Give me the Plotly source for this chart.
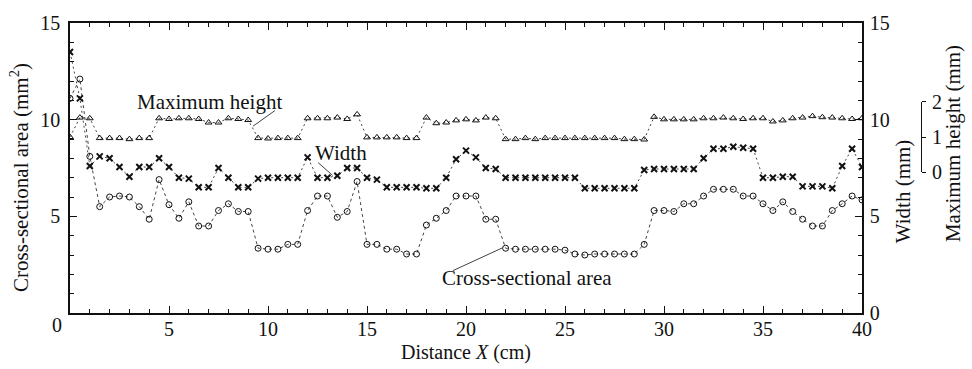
import plotly.graph_objects as go

# ---------------- data ----------------
x_cm = [0, 0.5, 1, 1.5, 2, 2.5, 3, 3.5, 4, 4.5, 5, 5.5, 6, 6.5, 7, 7.5, 8, 8.5, 9, 9.5,
        10, 10.5, 11, 11.5, 12, 12.5, 13, 13.5, 14, 14.5, 15, 15.5, 16, 16.5, 17, 17.5,
        18, 18.5, 19, 19.5, 20, 20.5, 21, 21.5, 22, 22.5, 23, 23.5, 24, 24.5, 25, 25.5,
        26, 26.5, 27, 27.5, 28, 28.5, 29, 29.5, 30, 30.5, 31, 31.5, 32, 32.5, 33, 33.5,
        34, 34.5, 35, 35.5, 36, 36.5, 37, 37.5, 38, 38.5, 39, 39.5, 40]

area_mm2 = [11.1, 12.1, 8.1, 5.5, 6.0, 6.05, 6.0, 5.5, 4.85, 6.9, 5.6, 4.9, 5.75, 4.5, 4.5,
            5.3, 5.65, 5.25, 5.25, 3.35, 3.3, 3.3, 3.55, 3.55, 5.3, 6.05, 6.05, 4.95, 5.25,
            6.8, 3.55, 3.55, 3.3, 3.3, 3.05, 3.05, 4.55, 4.9, 5.3, 6.05, 6.05, 6.05, 4.85,
            4.85, 3.35, 3.3, 3.3, 3.3, 3.3, 3.3, 3.25, 3.05, 3.0, 3.05, 3.05, 3.05, 3.05,
            3.05, 3.55, 5.3, 5.3, 5.25, 5.65, 5.65, 6.05, 6.4, 6.4, 6.4, 6.05, 6.05, 5.65,
            5.3, 5.75, 5.25, 4.85, 4.5, 4.5, 5.3, 5.65, 6.05, 5.85]

width_mm = [13.5, 11.1, 7.6, 8.1, 8.0, 7.55, 7.05, 7.55, 7.55, 8.0, 7.55, 7.0, 6.95, 6.5,
            6.5, 7.5, 7.0, 6.5, 6.5, 6.95, 7.0, 7.0, 7.0, 7.0, 8.05, 7.0, 7.0, 7.1, 7.5, 7.5,
            7.0, 6.9, 6.5, 6.5, 6.5, 6.5, 6.45, 6.45, 7.0, 7.95, 8.4, 8.05, 7.5, 7.45, 7.0,
            7.0, 7.0, 7.0, 7.0, 7.0, 7.0, 7.0, 6.45, 6.45, 6.45, 6.45, 6.45, 6.45, 7.4, 7.45,
            7.45, 7.45, 7.45, 7.45, 8.0, 8.5, 8.5, 8.6, 8.55, 8.5, 7.0, 7.0, 7.05, 7.05, 6.55,
            6.55, 6.55, 6.45, 7.6, 8.5, 7.55]

max_height_mm = [1.0, 1.55, 1.53, 0.97, 0.97, 0.97, 0.94, 0.97, 0.97, 1.53, 1.51, 1.53, 1.53,
                 1.51, 1.41, 1.41, 1.53, 1.51, 1.48, 0.97, 0.96, 0.97, 0.97, 0.97, 1.53, 1.53,
                 1.53, 1.55, 1.51, 1.64, 0.99, 0.99, 0.99, 0.99, 0.97, 0.97, 1.55, 1.39, 1.41,
                 1.47, 1.50, 1.47, 1.55, 1.53, 0.94, 0.94, 0.97, 0.94, 0.97, 0.97, 0.97, 0.97,
                 0.97, 0.97, 0.97, 0.97, 0.94, 0.94, 0.93, 1.57, 1.50, 1.50, 1.50, 1.50, 1.53,
                 1.53, 1.55, 1.53, 1.51, 1.53, 1.53, 1.44, 1.47, 1.53, 1.55, 1.59, 1.56, 1.55,
                 1.53, 1.51, 1.53]

x_tick_vals = [0, 5, 10, 15, 20, 25, 30, 35, 40]
x_tick_text = ["", "5", "10", "15", "20", "25", "30", "35", "40"]
y_tick_vals = [0, 5, 10, 15]
y_left_text = ["", "5", "10", "15"]
y_right_text = ["0", "5", "10", "15"]
h_tick_vals = [0, 1, 2]

FONT = "Liberation Serif"
INK = "#111111"
LINE = "#444444"

fig = go.Figure()

fig.add_trace(go.Scatter(
    x=x_cm, y=max_height_mm, xaxis="x", yaxis="y3", mode="lines+markers",
    line=dict(color=LINE, width=1, dash="2px,3px"),
    marker=dict(symbol="triangle-up-open", size=6, color=INK, line=dict(width=1, color=INK)),
    name="Maximum height", showlegend=False))

fig.add_trace(go.Scatter(
    x=x_cm, y=width_mm, xaxis="x", yaxis="y2", mode="lines+markers",
    line=dict(color=LINE, width=1, dash="2px,3px"),
    marker=dict(symbol="x-thin-open", size=6, color=INK, line=dict(width=2, color=INK)),
    name="Width", showlegend=False))

fig.add_trace(go.Scatter(
    x=x_cm, y=area_mm2, xaxis="x", yaxis="y", mode="lines+markers",
    line=dict(color=LINE, width=1, dash="3px,3px"),
    marker=dict(symbol="circle-open", size=6, color=INK, line=dict(width=1, color=INK)),
    name="Cross-sectional area", showlegend=False))

axis_font = dict(family=FONT, size=20, color=INK)

fig.update_layout(
    width=972, height=369,
    margin=dict(l=70, r=51, t=18, b=56, pad=0),
    paper_bgcolor="white", plot_bgcolor="rgba(0,0,0,0)",
    font=dict(family=FONT, size=20, color=INK),
    showlegend=False,
    xaxis=dict(
        domain=[0, 792 / 851], range=[0, 40],
        tickmode="array", tickvals=x_tick_vals, ticktext=x_tick_text,
        ticks="inside", ticklen=7, tickwidth=1, tickcolor=INK,
        minor=dict(dtick=1, ticks="inside", ticklen=4, tickwidth=1, tickcolor=INK),
        showline=True, linecolor=INK, linewidth=1.5, mirror="ticks",
        showgrid=False, zeroline=False, tickfont=axis_font, ticklabelstandoff=-3,
    ),
    yaxis=dict(
        range=[0, 15],
        tickmode="array", tickvals=y_tick_vals, ticktext=y_left_text,
        ticks="inside", ticklen=7, tickwidth=1, tickcolor=INK,
        minor=dict(dtick=1, ticks="inside", ticklen=4, tickwidth=1, tickcolor=INK),
        showline=True, linecolor=INK, linewidth=1.5,
        showgrid=False, zeroline=False, tickfont=axis_font, ticklabelstandoff=4,
    ),
    yaxis2=dict(
        range=[0, 15], overlaying="y", side="right", anchor="x",
        tickmode="array", tickvals=y_tick_vals, ticktext=y_right_text,
        ticks="inside", ticklen=7, tickwidth=1, tickcolor=INK,
        minor=dict(dtick=1, ticks="inside", ticklen=4, tickwidth=1, tickcolor=INK),
        showline=True, linecolor=INK, linewidth=1.5,
        showgrid=False, zeroline=False, tickfont=axis_font, ticklabelstandoff=2,
    ),
    yaxis3=dict(
        domain=[143 / 295, 215 / 295], range=[0, 2], anchor="free", position=1.0,
        side="right",
        tickmode="array", tickvals=h_tick_vals,
        ticks="outside", ticklen=4, tickwidth=1, tickcolor=INK,
        showline=True, linecolor=INK, linewidth=1,
        showgrid=False, zeroline=False, tickfont=axis_font, ticklabelstandoff=2,
    ),
)

# leader lines for the in-plot labels
leaders = [
    (10.35, 10.47, 9.24, 9.66),
    (12.53, 7.78, 13.26, 7.12),
    (19.34, 2.19, 21.82, 3.36),
]
for x0, y0, x1, y1 in leaders:
    fig.add_shape(type="line", xref="x", yref="y", x0=x0, y0=y0, x1=x1, y1=y1,
                  line=dict(color=INK, width=0.8))

label_font = dict(family=FONT, size=21, color=INK)
in_plot_labels = [
    ("Maximum height", 7.02, 10.93),
    ("Width", 13.69, 8.29),
    ("Cross-sectional area", 23.08, 1.83),
]
for txt, lx, ly in in_plot_labels:
    fig.add_annotation(text=txt, x=lx, y=ly, xref="x", yref="y", showarrow=False,
                       font=label_font, xanchor="center", yanchor="middle")

# axis titles
fig.add_annotation(text="Cross-sectional area (mm<sup>2</sup>)", xref="paper", yref="paper",
                   x=-0.0588, y=0.469, textangle=-90, showarrow=False, font=label_font,
                   xanchor="center", yanchor="middle")
fig.add_annotation(text="Distance <i>X</i> (cm)", xref="paper", yref="paper",
                   x=0.4653, y=-0.137, showarrow=False,
                   font=dict(family=FONT, size=20, color=INK),
                   xanchor="center", yanchor="middle")
fig.add_annotation(text="Width (mm)", xref="paper", yref="paper",
                   x=0.9789, y=0.420, textangle=-90, showarrow=False, font=label_font,
                   xanchor="center", yanchor="middle")
fig.add_annotation(text="Maximum height (mm)", xref="paper", yref="paper",
                   x=1.0376, y=0.586, textangle=-90, showarrow=False, font=label_font,
                   xanchor="center", yanchor="middle")
# shared origin label
fig.add_annotation(text="0", xref="paper", yref="paper", x=-0.0153, y=-0.0407,
                   showarrow=False, font=axis_font, xanchor="center", yanchor="middle")

fig.write_html("out.html", config={"displayModeBar": False},
               post_script="document.body.style.margin='0';")
